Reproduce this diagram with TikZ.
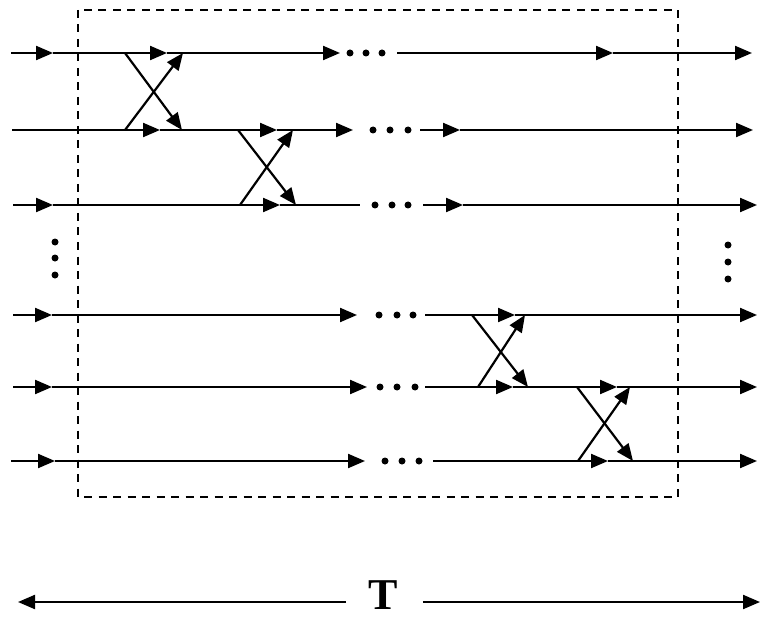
\documentclass[tikz,border=0pt]{standalone}
\usepackage{fontspec}
\setmainfont{Liberation Serif}
\usetikzlibrary{arrows.meta}
\tikzset{
  flow/.style={line width=2.2pt,-{Triangle[length=17pt,width=14pt]}},
  plain/.style={line width=2.2pt},
  frame/.style={line width=1.8pt,dash pattern=on 8pt off 6.5pt}
}

\begin{document}
\begin{tikzpicture}[x=1pt,y=-1pt]
      \useasboundingbox (0,0) rectangle (762,620);
      \draw[frame] (78,10) rectangle (678,497);
      % channels, left part
      \foreach \a/\b in {11/53,53/167,167/340} \draw[flow] (\a,53)--(\b,53);
      \foreach \a/\b in {12/160,160/277,277/353} \draw[flow] (\a,130)--(\b,130);
      \foreach \a/\b in {13/53,53/280} \draw[flow] (\a,205)--(\b,205);
      \draw[plain] (280,205)--(360,205);
      \foreach \a/\b in {13/52,52/357} \draw[flow] (\a,315)--(\b,315);
      \foreach \a/\b in {13/52,52/367} \draw[flow] (\a,387)--(\b,387);
      \foreach \a/\b in {11/55,55/365} \draw[flow] (\a,461)--(\b,461);
      % channels, right part
      \foreach \a/\b in {397/613,613/752} \draw[flow] (\a,53)--(\b,53);
      \foreach \a/\b in {420/460,460/753} \draw[flow] (\a,130)--(\b,130);
      \foreach \a/\b in {423/463,463/757} \draw[flow] (\a,205)--(\b,205);
      \foreach \a/\b in {425/515,515/757} \draw[flow] (\a,315)--(\b,315);
      \foreach \a/\b in {425/513,513/617,617/757} \draw[flow] (\a,387)--(\b,387);
      \foreach \a/\b in {433/608,608/757} \draw[flow] (\a,461)--(\b,461);
      % dots
      \foreach \x/\y in {350/53,366/53,382/53,373/130,390/130,408/130,375/205,392/205,408/205,
                         379/315,397/315,413/315,380/387,397/387,415/387,385/461,402/461,419/461,
                         55/242,55/258,55/275,728/245,728/262,728/279}
        \fill (\x,\y) circle (3.5);
      % swaps
      \coordinate (s1a) at (125,53);  \coordinate (s1b) at (182,130);
      \coordinate (s1c) at (125,130); \coordinate (s1d) at (183,53);
      \coordinate (s2a) at (238,130); \coordinate (s2b) at (296,205);
      \coordinate (s2c) at (240,205); \coordinate (s2d) at (293,130);
      \coordinate (s3a) at (472,315); \coordinate (s3b) at (528,387);
      \coordinate (s3c) at (478,387); \coordinate (s3d) at (525,315);
      \coordinate (s4a) at (577,387); \coordinate (s4b) at (633,461);
      \coordinate (s4c) at (578,461); \coordinate (s4d) at (630,387);
      \foreach \s in {s1,s2,s3,s4} {
        \draw[flow] (\s a)--(\s b);
        \draw[flow] (\s c)--(\s d);
      }
      % period
      \node[inner sep=0pt,font=\fontsize{44}{44}\selectfont\bfseries] (T) at (383,595) {T};
      \coordinate (tl) at (18,602);
      \coordinate (tr) at (760,602);
      \draw[flow] ([xshift=-22pt]T.west|-tl)--(tl);
      \draw[flow] ([xshift=25pt]T.east|-tr)--(tr);
    \end{tikzpicture}
\end{document}
